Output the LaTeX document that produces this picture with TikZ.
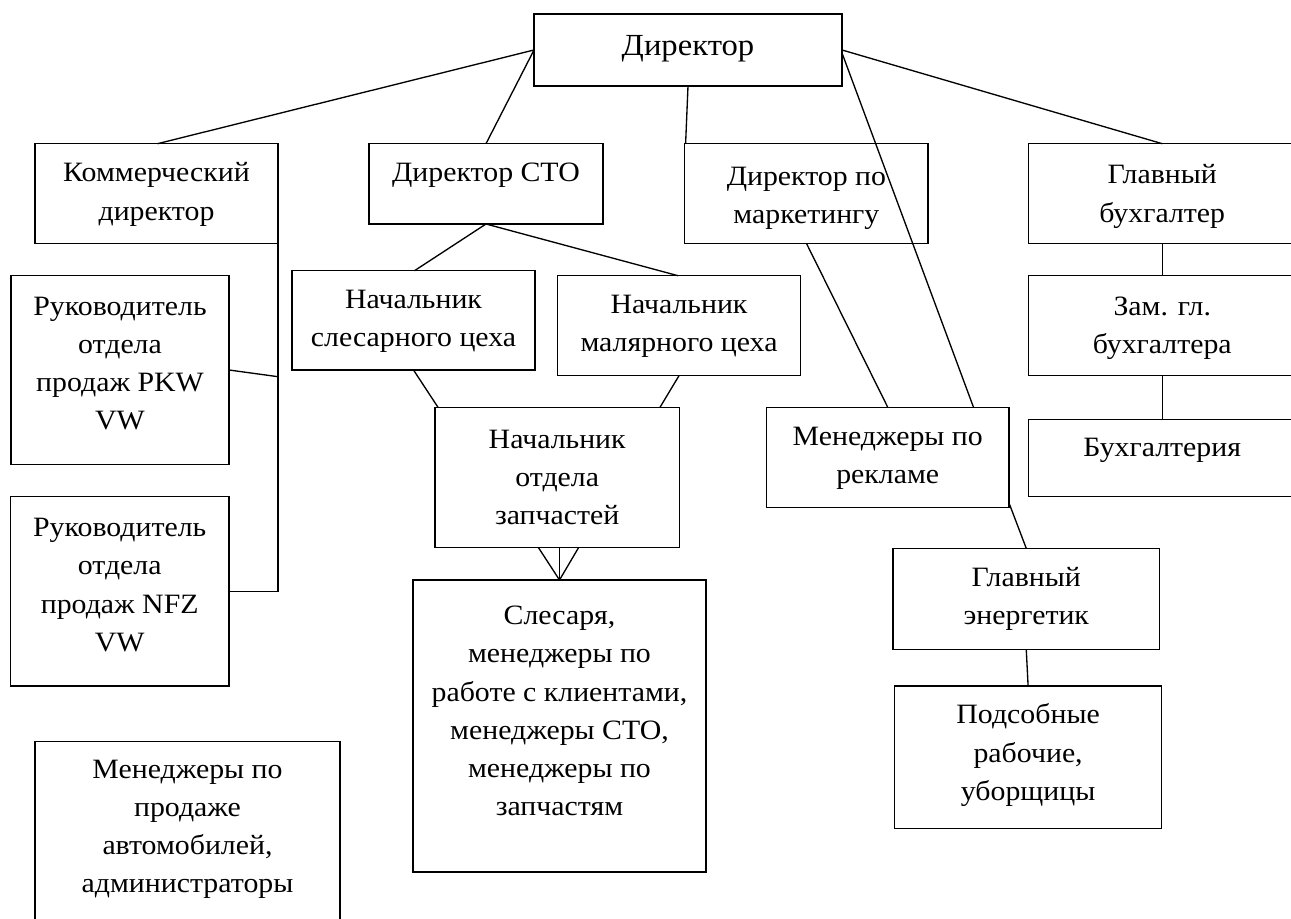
\documentclass[tikz,border=0pt]{standalone}
\usepackage{fontspec}
\setmainfont[FakeStretch=1.065]{Liberation Serif}
\usetikzlibrary{calc}
\begin{document}
\begin{tikzpicture}[x=0.75pt,y=-0.75pt,
  box/.style={draw,line width=1pt,inner sep=0pt,outer sep=0pt},
  lbl/.style={align=center,inner sep=0pt,font=\fontsize{21}{28.7}\selectfont},
  conn/.style={line width=1pt}]
\useasboundingbox (0,0) rectangle (1291,919);
% boxes
\node[box,minimum width=308*0.75pt,minimum height=72*0.75pt] (dir) at (688,50) {};
\node[box,minimum width=243*0.75pt,minimum height=99.6*0.75pt] (kom) at (156.5,193.5) {};
\node[box,minimum width=234*0.75pt,minimum height=80.3*0.75pt] (sto) at (486,183.85) {};
\node[box,minimum width=243.2*0.75pt,minimum height=99.6*0.75pt] (mkt) at (806.4,193.5) {};
\node[box,minimum width=267.5*0.75pt,minimum height=99.6*0.75pt] (buh) at (1162.25,193.5) {};
\node[box,minimum width=218*0.75pt,minimum height=188.6*0.75pt] (pkw) at (120,370) {};
\node[box,minimum width=243*0.75pt,minimum height=99.3*0.75pt] (slc) at (413.5,320.35) {};
\node[box,minimum width=242.8*0.75pt,minimum height=100*0.75pt] (mal) at (679,325.7) {};
\node[box,minimum width=267.5*0.75pt,minimum height=100*0.75pt] (zam) at (1162.25,325.7) {};
\node[box,minimum width=244.4*0.75pt,minimum height=140.4*0.75pt] (zap) at (557.2,477.5) {};
\node[box,minimum width=242.5*0.75pt,minimum height=100.4*0.75pt] (rek) at (887.75,457.5) {};
\node[box,minimum width=267.5*0.75pt,minimum height=77.4*0.75pt] (bux) at (1162.25,458) {};
\node[box,minimum width=218.6*0.75pt,minimum height=189.3*0.75pt] (nfz) at (119.7,591.35) {};
\node[box,minimum width=266.5*0.75pt,minimum height=101*0.75pt] (ene) at (1026.25,598.8) {};
\node[box,minimum width=293*0.75pt,minimum height=292*0.75pt] (sle) at (559.5,726) {};
\node[box,minimum width=267*0.75pt,minimum height=142.3*0.75pt] (pod) at (1028.1,757.15) {};
\node[box,minimum width=305*0.75pt,minimum height=188.3*0.75pt] (mpr) at (187.5,835.85) {};
% texts
\node[lbl,font=\fontsize{23}{28.7}\selectfont] (t-dir) at (688,49) {Директор};
\node[lbl] (t-kom) at (156.5,194.5) {Коммерческий\\директор};
\node[lbl] (t-sto) at (486,175) {Директор СТО};
\node[lbl] (t-mkt) at (806.4,198) {Директор по\\маркетингу};
\node[lbl] (t-buh) at (1162.25,196.5) {Главный\\бухгалтер};
\node[lbl] (t-pkw) at (120,363.5) {Руководитель\\отдела\\продаж PKW\\VW};
\node[lbl] (t-slc) at (413.5,321) {Начальник\\слесарного цеха};
\node[lbl] (t-mal) at (679,326) {Начальник\\малярного цеха};
\node[lbl] (t-zam) at (1162.25,328) {Зам. гл.\\бухгалтера};
\node[lbl] (t-zap) at (557.2,477.5) {Начальник\\отдела\\запчастей};
\node[lbl] (t-rek) at (887.75,458) {Менеджеры по\\рекламе};
\node[lbl] (t-bux) at (1162.25,450) {Бухгалтерия};
\node[lbl] (t-nfz) at (119.7,585) {Руководитель\\отдела\\продаж NFZ\\VW};
\node[lbl] (t-ene) at (1026.25,598.7) {Главный\\энергетик};
\node[lbl] (t-sle) at (559.5,711) {Слесаря,\\менеджеры по\\работе с клиентами,\\менеджеры СТО,\\менеджеры по\\запчастям};
\node[lbl] (t-pod) at (1028.1,755) {Подсобные\\рабочие,\\уборщицы};
\node[lbl] (t-mpr) at (187.5,829.3) {Менеджеры по\\продаже\\автомобилей,\\администраторы};
% connectors
\coordinate (pj) at (278,376.7);
\draw[conn] (dir.west) -- ($(kom.north)+(1,0)$);
\draw[conn] (dir.west) -- (sto.north);
\draw[conn] (dir.south) -- ($(mkt.north west)+(0.8,0)$);
\draw[conn] (dir.east) -- (buh.north);
\draw[conn] ($(dir.east)+(0,3)$) -- ($(rek.north west)+(207,0)$);
\draw[conn] (kom.south east) |- (nfz.east);
\draw[conn] (pkw.east) -- (pj);
\draw[conn] (sto.south) -- ($(slc.north)+(1,0)$);
\draw[conn] (sto.south) -- ($(mal.north)+(-1,0)$);
\draw[conn] (slc.south) -- ($(zap.north west)+(3,0)$);
\draw[conn] (mal.south) -- ($(zap.north west)+(225,0)$);
\draw[conn] (sle.north |- zap.south) -- (sle.north);
\draw[conn] ($(sle.north |- zap.south)+(-21,0)$) -- (sle.north);
\draw[conn] ($(sle.north |- zap.south)+(19,0)$) -- (sle.north);
\draw[conn] (mkt.south) -- (rek.north);
\draw[conn] (buh.south) -- (zam.north);
\draw[conn] (zam.south) -- (bux.north);
\draw[conn] ($(rek.south east)+(0,-4.7)$) -- (ene.north);
\draw[conn] (ene.south) -- (pod.north);
\end{tikzpicture}
\end{document}
